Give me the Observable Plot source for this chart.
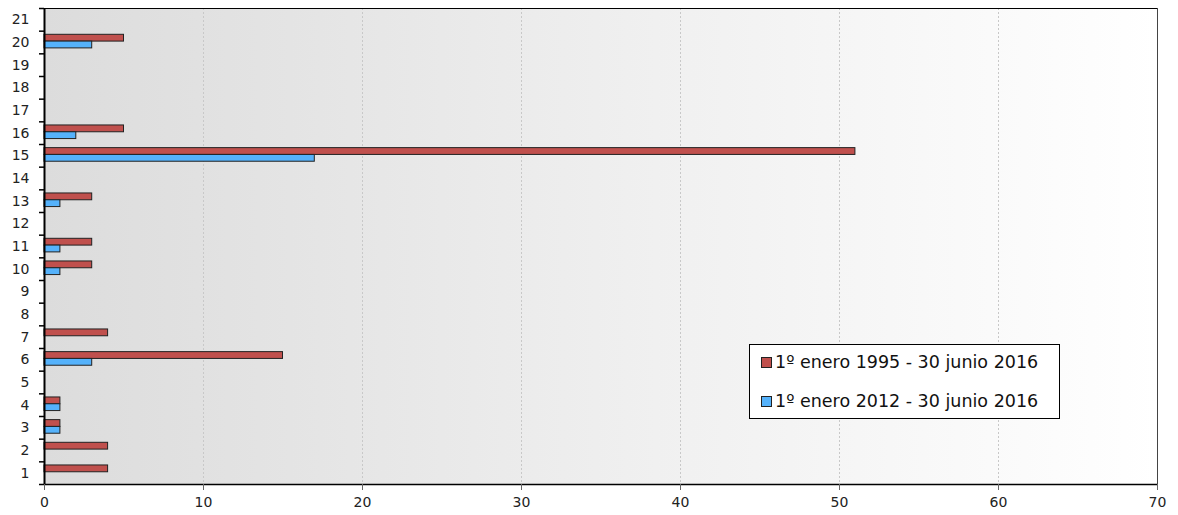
<!DOCTYPE html>
<html>
<head>
<meta charset="utf-8">
<script src="https://cdn.jsdelivr.net/npm/d3@7"></script>
<script src="https://cdn.jsdelivr.net/npm/@observablehq/plot@0.6"></script>
<style>
  body { margin: 0; background: #fff; font-family: "DejaVu Sans", Verdana, sans-serif; }
  #wrap { position: relative; width: 1178px; height: 515px; }
  #legend { position: absolute; left: 749px; top: 344px; width: 309px; height: 73px;
    border: 1px solid #000; background: #fff; font-size: 17.5px; color: #111; }
  .row { position: absolute; left: 11px; display: flex; align-items: center; white-space: nowrap; }
  .sw { width: 9px; height: 9px; border: 1px solid #222; margin-right: 3px; }
</style>
</head>
<body>
<div id="wrap"></div>
<script>
const categories = [1,2,3,4,5,6,7,8,9,10,11,12,13,14,15,16,17,18,19,20,21];
const series = ["1º enero 1995 - 30 junio 2016", "1º enero 2012 - 30 junio 2016"];
const values1995 = [4,4,1,1,0,15,4,0,0,3,3,0,3,0,51,5,0,0,0,5,0];
const values2012 = [0,0,1,1,0,3,0,0,0,1,1,0,1,0,17,2,0,0,0,3,0];
const xTicks = [0,10,20,30,40,50,60,70];
const colors = ["#c0504d", "#55b2fb"];

const data = [];
categories.forEach((c, i) => {
  if (values1995[i] > 0) data.push({cat: c, v: values1995[i], s: series[0]});
  if (values2012[i] > 0) data.push({cat: c, v: values2012[i], s: series[1]});
});

const chart = Plot.plot({
  width: 1178,
  height: 515,
  marginLeft: 44,
  marginRight: 21,
  marginTop: 8,
  marginBottom: 31,
  style: {fontFamily: "'DejaVu Sans', Verdana, sans-serif", fontSize: "14px", color: "#222", background: "transparent"},
  x: {domain: [0, 70]},
  y: {domain: [0.5, 21.5]},
  color: {domain: series, range: colors},
  marks: [
    Plot.frame({fill: "url(#bggrad)", stroke: "none"}),
    Plot.ruleX(xTicks.slice(1, -1), {stroke: "#c8c8c8", strokeDasharray: "2,2", strokeWidth: 1}),
    Plot.rect(data, {
      x1: 0, x2: "v",
      y1: d => d.s === series[0] ? d.cat + 0.04 : d.cat - 0.26,
      y2: d => d.s === series[0] ? d.cat + 0.34 : d.cat + 0.04,
      fill: "s", stroke: "#222", strokeWidth: 1, inset: 0
    }),
    Plot.ruleY([21.5], {stroke: "#000", strokeWidth: 1}),
    Plot.ruleX([70], {stroke: "#444", strokeWidth: 1}),
    Plot.ruleY([0.5], {stroke: "#000", strokeWidth: 1.5}),
    Plot.ruleX([0], {stroke: "#000", strokeWidth: 2}),
    Plot.axisY(categories, {tickSize: 0, tickPadding: 15, fontSize: 14}),
    Plot.axisY(d3.range(0.5, 22, 1), {tickSize: 5, tickFormat: () => "", stroke: "#000", strokeWidth: 1.5}),
    Plot.axisX(xTicks, {tickSize: 6, tickPadding: 7, stroke: "#666", fontSize: 14, label: null})
  ]
});

// gradient definition for the plot background
const svg = d3.select(chart);
const defs = svg.insert("defs", ":first-child");
const g = defs.append("linearGradient").attr("id", "bggrad").attr("x1", "0").attr("x2", "1").attr("y1", "0").attr("y2", "0");
g.append("stop").attr("offset", "0%").attr("stop-color", "#dcdcdc");
g.append("stop").attr("offset", "55%").attr("stop-color", "#f0f0f0");
g.append("stop").attr("offset", "100%").attr("stop-color", "#ffffff");

const wrap = document.getElementById("wrap");
wrap.appendChild(chart);

const legend = document.createElement("div");
legend.id = "legend";
series.forEach((s, i) => {
  const row = document.createElement("div");
  row.className = "row";
  row.style.top = (i === 0 ? 7 : 46) + "px";
  const sw = document.createElement("span");
  sw.className = "sw";
  sw.style.background = colors[i];
  const t = document.createElement("span");
  t.textContent = s;
  row.appendChild(sw);
  row.appendChild(t);
  legend.appendChild(row);
});
wrap.appendChild(legend);
</script>
</body>
</html>
